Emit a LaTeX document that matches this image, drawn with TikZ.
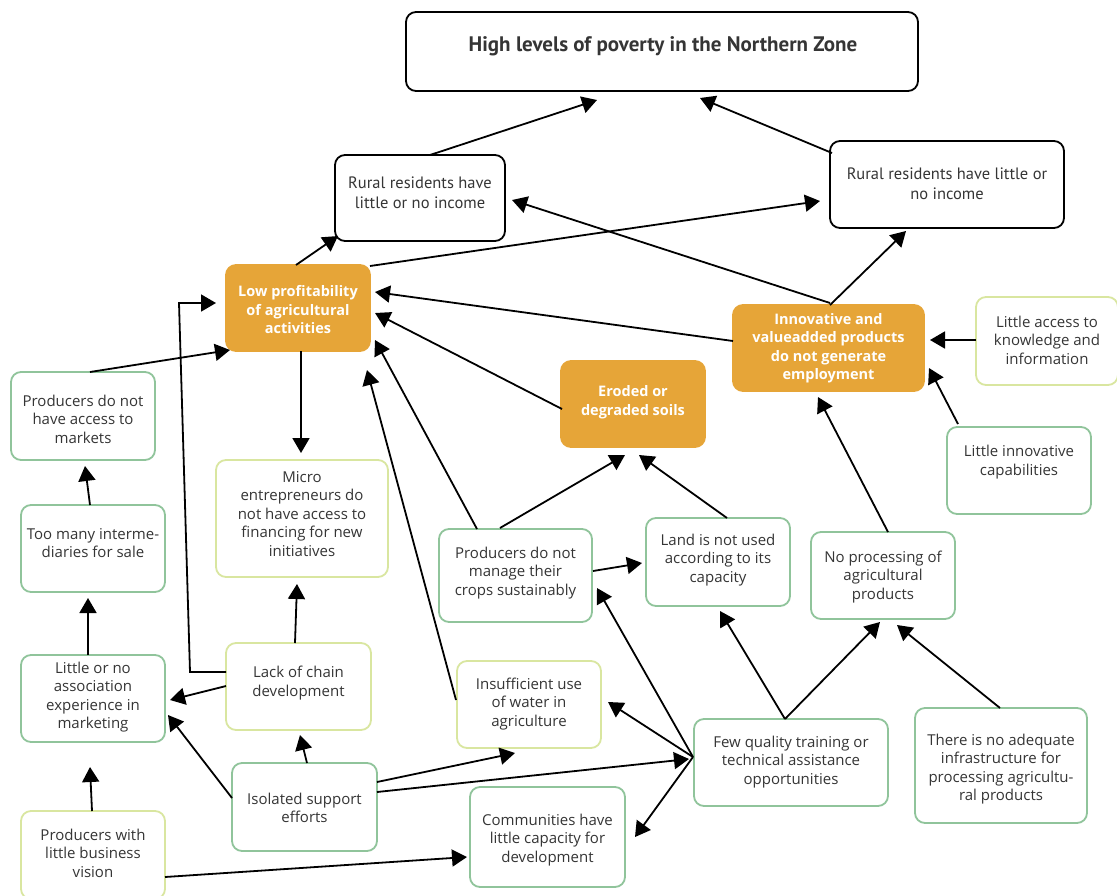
\documentclass[tikz,border=0pt]{standalone}
\usepackage{fontspec}
\setmainfont{Open Sans}
\newfontfamily\condfont{PT Sans}
\usetikzlibrary{arrows.meta,calc}
\definecolor{ink}{HTML}{353535}
\definecolor{amber}{HTML}{E6A538}
\definecolor{sage}{HTML}{90C49B}
\definecolor{lime}{HTML}{D9E6A0}
\tikzset{
  base/.style={rectangle, rounded corners=10pt, line width=1.8pt, inner sep=0pt, outer sep=0pt, anchor=north west},
  blackbox/.style={base, draw=black},
  greenbox/.style={base, draw=sage, fill=white},
  limebox/.style={base, draw=lime, fill=white},
  orangebox/.style={base, draw=amber, fill=amber},
  txt/.style={font=\fontsize{15}{18.5}\selectfont, text=ink, align=center, inner sep=0pt},
  wtxt/.style={font=\fontsize{14.5}{18.5}\selectfont\bfseries, text=white, align=center, inner sep=0pt},
  ctxt/.style={font=\condfont\fontsize{16.5}{20}\selectfont, text=ink, align=center, inner sep=0pt},
  arr/.style={line width=1.8pt, -{Triangle[length=15pt,width=17pt]}}
}
\begin{document}
\begin{tikzpicture}[x=1pt,y=-1pt]
\useasboundingbox (0,0) rectangle (1117,895);

% ---- boxes (top-left corner, size) ----
\node[blackbox, minimum width=512pt, minimum height=79pt] (top) at (406,12) {};
\node[blackbox, minimum width=170pt, minimum height=86pt] (rr1) at (335,155) {};
\node[blackbox, minimum width=234pt, minimum height=87pt] (rr2) at (830,141) {};
\node[orangebox, minimum width=144pt, minimum height=86pt] (lp) at (226,265) {};
\node[orangebox, minimum width=191pt, minimum height=86pt] (inn) at (733,305) {};
\node[orangebox, minimum width=144pt, minimum height=86pt] (ero) at (561,361) {};
\node[limebox, minimum width=142pt, minimum height=88pt] (la) at (976,297) {};
\node[greenbox, minimum width=144pt, minimum height=87pt] (li) at (947,427) {};
\node[greenbox, minimum width=144pt, minimum height=88pt] (pm) at (11,372) {};
\node[greenbox, minimum width=144pt, minimum height=87pt] (tm) at (21,505) {};
\node[limebox, minimum width=172pt, minimum height=117pt] (mi) at (216,460) {};
\node[greenbox, minimum width=153pt, minimum height=93pt] (pc) at (439,529) {};
\node[greenbox, minimum width=144pt, minimum height=88pt] (ld) at (646,518) {};
\node[greenbox, minimum width=144pt, minimum height=87pt] (np) at (811,532) {};
\node[greenbox, minimum width=144pt, minimum height=87pt] (las) at (21,655) {};
\node[limebox, minimum width=145pt, minimum height=87pt] (lc) at (226,643) {};
\node[limebox, minimum width=144pt, minimum height=87pt] (iu) at (457,661) {};
\node[greenbox, minimum width=194pt, minimum height=87pt] (fq) at (694,719) {};
\node[greenbox, minimum width=172pt, minimum height=115pt] (inf) at (915,708) {};
\node[greenbox, minimum width=145pt, minimum height=88pt] (is) at (232,763) {};
\node[greenbox, minimum width=155pt, minimum height=100pt] (co) at (470,787) {};
\node[limebox, minimum width=144pt, minimum height=88pt] (pb) at (21,811) {};

% ---- texts ----
\node[font=\condfont\bfseries\fontsize{21}{25}\selectfont, text=ink, inner sep=0pt] (top-t) at (663,46) {High levels of poverty in the Northern Zone};
\node[ctxt] (rr1-t) at (420,193) {Rural residents have\\little or no income};
\node[ctxt] (rr2-t) at (947,184) {Rural residents have little or\\no income};
\node[wtxt] (lp-t) at (298,310) {Low profitability\\of agricultural\\activities};
\node[wtxt] (inn-t) at (828.5,348) {Innovative and\\valueadded products\\do not generate\\employment};
\node[wtxt] (ero-t) at (633,402) {Eroded or\\degraded soils};
\node[txt] (la-t) at (1047,340) {Little access to\\knowledge and\\information};
\node[txt] (li-t) at (1019,462) {Little innovative\\capabilities};
\node[txt] (pm-t) at (83,419) {Producers do not\\have access to\\markets};
\node[txt] (tm-t) at (93,543) {Too many interme-\\diaries for sale};
\node[txt] (mi-t) at (302,514) {Micro\\entrepreneurs do\\not have access to\\financing for new\\initiatives};
\node[txt] (pc-t) at (515.5,573) {Producers do not\\manage their\\crops sustainably};
\node[txt] (ld-t) at (718,560) {Land is not used\\according to its\\capacity};
\node[txt] (np-t) at (883,577) {No processing of\\agricultural\\products};
\node[txt] (las-t) at (93,697) {Little or no\\association\\experience in\\marketing};
\node[txt] (lc-t) at (298.5,683) {Lack of chain\\development};
\node[txt] (iu-t) at (529,704) {Insufficient use\\of water in\\agriculture};
\node[txt] (fq-t) at (791,762) {Few quality training or\\technical assistance\\opportunities};
\node[txt] (inf-t) at (1001,769) {There is no adequate\\infrastructure for\\processing agricultu-\\ral products};
\node[txt] (is-t) at (304.5,808) {Isolated support\\efforts};
\node[txt] (co-t) at (547.5,840) {Communities have\\little capacity for\\development};
\node[txt] (pb-t) at (93,853) {Producers with\\little business\\vision};

% ---- connectors ----
\draw[arr] ($(rr1.north west)+(95,0)$) -- ($(top.north west)+(191,88)$);
\draw[arr] ($(rr2.north west)+(2,12)$) -- ($(top.north west)+(294,86)$);
\draw[arr] ($(lp.north west)+(70,0)$) -- ($(rr1.north west)+(3,81)$);
\draw[arr] ($(lp.north west)+(144,1)$) -- ($(rr2.north west)+(-10,60)$);
\draw[arr] ($(inn.north west)+(97,0)$) -- ($(rr2.north west)+(76,90)$);
\draw[arr] ($(inn.north west)+(97,-2)$) -- ($(rr1.north west)+(177,45)$);
\draw[arr] ($(inn.north west)+(0,36)$) -- ($(lp.north west)+(149,27)$);
\draw[arr] ($(ero.north west)+(1,48)$) -- ($(lp.north west)+(149,48)$);
\draw[arr] ($(pc.north west)+(38,0)$) -- ($(lp.north west)+(149,75)$);
\draw[arr] ($(iu.north west)+(-1,39)$) -- ($(lp.north west)+(141,105)$);
\draw[arr] ($(pm.north west)+(79,0)$) -- ($(lp.north west)+(4,85)$);
\draw[arr] ($(lp.north west)+(75,86)$) -- ($(mi.north west)+(85,-7)$);
\draw[arr] ($(lc.north west)+(0,29)$) -- ($(lc.north west)+(-36,29)$) -- ($(lp.north west)+(-47,38)$) -- ($(lp.north west)+(-10,38)$);
\draw[arr] ($(lc.north west)+(0,43)$) -- ($(las.north west)+(149,45)$);
\draw[arr] ($(lc.north west)+(69,0)$) -- ($(mi.north west)+(81,124)$);
\draw[arr] ($(is.north west)+(75,0)$) -- ($(lc.north west)+(74,92)$);
\draw[arr] ($(is.north west)+(0,35)$) -- ($(las.north west)+(147,60)$);
\draw[arr] ($(las.north west)+(67,0)$) -- ($(tm.north west)+(67,93)$);
\draw[arr] ($(tm.north west)+(69,0)$) -- ($(pm.north west)+(74,94)$);
\draw[arr] ($(pb.north west)+(71,0)$) -- ($(las.north west)+(69,112)$);
\draw[arr] ($(pb.north west)+(144,66)$) -- ($(co.north west)+(-3,70)$);
\draw[arr] ($(is.north west)+(145,19)$) -- ($(iu.north west)+(58,92)$);
\draw[arr] ($(is.north west)+(145,29)$) -- ($(fq.north west)+(-5,40)$);
\draw[arr] ($(fq.north west)+(-1,38)$) -- ($(iu.north west)+(151,41)$);
\draw[arr] ($(fq.north west)+(-1,38)$) -- ($(pc.north west)+(158,59)$);
\draw[arr] ($(fq.north west)+(-1,38)$) -- ($(co.north west)+(165,50)$);
\draw[arr] ($(fq.north west)+(91,0)$) -- ($(ld.north west)+(74,93)$);
\draw[arr] ($(fq.north west)+(91,0)$) -- ($(np.north west)+(69,90)$);
\draw[arr] ($(inf.north west)+(85,0)$) -- ($(np.north west)+(86,93)$);
\draw[arr] ($(pc.north west)+(154,42)$) -- ($(ld.north west)+(-4,45)$);
\draw[arr] ($(pc.north west)+(61,-1)$) -- ($(ero.north west)+(64,94)$);
\draw[arr] ($(ld.north west)+(81,0)$) -- ($(ero.north west)+(78,94)$);
\draw[arr] ($(np.north west)+(77,0)$) -- ($(inn.north west)+(85,92)$);
\draw[arr] ($(li.north west)+(11,-3)$) -- ($(inn.north west)+(196,63)$);
\draw[arr] ($(la.north west)+(0,43)$) -- ($(inn.north west)+(197,35)$);
\end{tikzpicture}
\end{document}
